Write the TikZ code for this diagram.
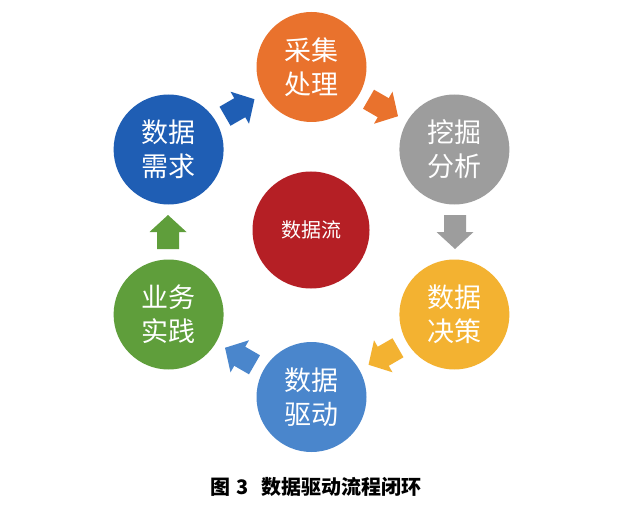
\documentclass[tikz,border=0pt]{standalone}
\usepackage{fontspec}
\newfontfamily\cjk{Noto Sans CJK SC}
\usetikzlibrary{calc}
\definecolor{cOrange}{HTML}{E9722D}
\definecolor{cGray}{HTML}{9D9D9D}
\definecolor{cYellow}{HTML}{F3B231}
\definecolor{cLblue}{HTML}{4A86CC}
\definecolor{cGreen}{HTML}{5F9E3B}
\definecolor{cDblue}{HTML}{1F5EB4}
\definecolor{cRed}{HTML}{B51F25}
\begin{document}
\begin{tikzpicture}[x=1pt,y=1pt,
  bub/.style={circle, minimum size=110pt, inner sep=0pt, fill=#1, text=white,
    font=\cjk\fontsize{27}{34}\selectfont, align=center},
  blk/.pic={\fill[#1] (-17,-11) -- (0,-11) -- (0,-18.5) -- (17,0) -- (0,18.5) -- (0,11) -- (-17,11) -- cycle;},
  captext/.style={font=\cjk\bfseries\fontsize{20}{24}\selectfont, text=black}]
\fill[white] (0,0) rectangle (617,512);
\useasboundingbox (0,0) rectangle (617,512);
\coordinate (O) at (311.5,280);
% circles
\node[bub=cOrange] (c1) at ($(O)+(90:165)$) {采集\\处理};
\node[bub=cGray]   (c2) at ($(O)+(30:165)$) {挖掘\\分析};
\node[bub=cYellow] (c3) at ($(O)+(-30:165)$) {数据\\决策};
\node[bub=cLblue]  (c4) at ($(O)+(-90:165)$) {数据\\驱动};
\node[bub=cGreen]  (c5) at ($(O)+(-150:165)$) {业务\\实践};
\node[bub=cDblue]  (c6) at ($(O)+(150:165)$) {数据\\需求};
\node[bub=cRed, minimum size=117pt, font=\cjk\fontsize{20}{24}\selectfont] (c0) at ($(O)+(-0.5,2)$) {数据流};
% block arrows
\pic[rotate=30]   at ($(O)+(120:143.5)$) {blk=cDblue};
\pic[rotate=-30]  at ($(O)+(60:143.5)$)  {blk=cOrange};
\pic[rotate=-90]  at ($(O)+(0:143.5)$)   {blk=cGray};
\pic[rotate=-150] at ($(O)+(-60:143.5)$) {blk=cYellow};
\pic[rotate=150]  at ($(O)+(-120:143.5)$) {blk=cLblue};
\pic[rotate=90]   at ($(O)+(180:143.5)$) {blk=cGreen};
% caption
\node[captext] (title) at (316,25) {图\hspace{0.3em}3\hspace{0.6em}数据驱动流程闭环};
\end{tikzpicture}
\end{document}
